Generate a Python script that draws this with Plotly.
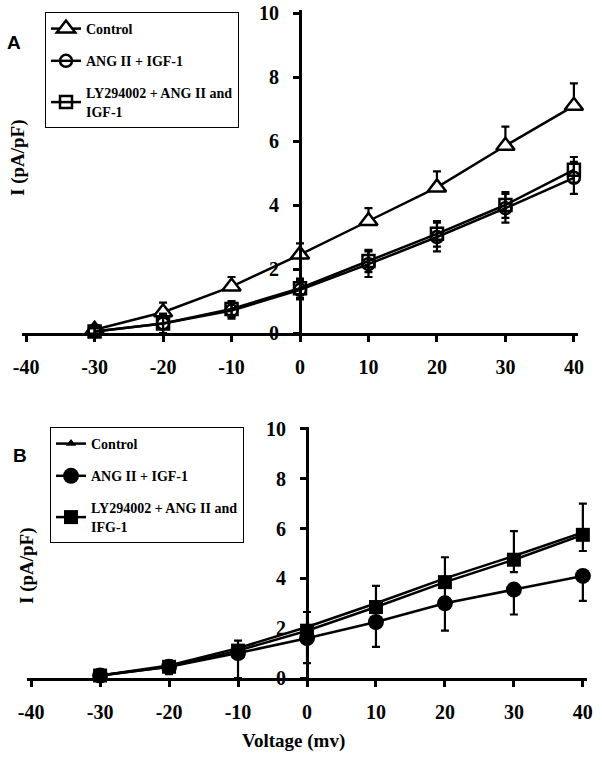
import plotly.graph_objects as go

# ---------------- data ----------------
voltage = [-30, -20, -10, 0, 10, 20, 30, 40]
x_ticks = [-40, -30, -20, -10, 0, 10, 20, 30, 40]
x_tick_labels = ["-40", "-30", "-20", "-10", "0", "10", "20", "30", "40"]
y_ticks = [0, 2, 4, 6, 8, 10]
y_tick_labels = ["0", "2", "4", "6", "8", "10"]

# Panel A
a_control = [0.1, 0.65, 1.45, 2.45, 3.5, 4.55, 5.85, 7.1]
a_control_err = [0.15, 0.3, 0.3, 0.35, 0.4, 0.5, 0.6, 0.7]
a_ang = [0.05, 0.3, 0.7, 1.35, 2.15, 3.0, 3.9, 4.85]
a_ang_err = [0.1, 0.3, 0.25, 0.3, 0.4, 0.45, 0.45, 0.5]
a_ly = [0.05, 0.3, 0.75, 1.4, 2.25, 3.1, 4.0, 5.1]
a_ly_err = [0.1, 0.3, 0.25, 0.3, 0.35, 0.4, 0.4, 0.4]

# Panel B
b_control = [0.1, 0.5, 1.2, 2.05, 3.0, 4.0, 4.9, 5.85]
b_control_err = [0.1, 0.2, 0.3, 0.6, 0.7, 0.85, 1.0, 1.15]
b_ang = [0.1, 0.45, 1.0, 1.6, 2.25, 3.0, 3.55, 4.1]
b_ang_err = [0.1, 0.3, 1.0, 1.0, 1.0, 1.1, 1.0, 1.0]
b_ly = [0.1, 0.45, 1.1, 1.9, 2.85, 3.85, 4.75, 5.75]
b_ly_err = [0.05, 0.1, 0.2, 0.4, 0.5, 0.6, 0.5, 0.65]

names_a = ["Control", "ANG II + IGF-1", "LY294002 + ANG II and<br>IGF-1"]
names_b = ["Control", "ANG II + IGF-1", "LY294002 + ANG II and<br>IFG-1"]

# ---------------- styling ----------------
W, H = 602, 758
SERIF = "Liberation Serif"
SANS = "Liberation Sans"
LW = 2.5
zeros = [0] * len(voltage)


def px(x):  # page pixel -> paper fraction
    return x / W


def py(y):
    return 1 - y / H


def err(vals, up=True):
    if up:
        return dict(type="data", symmetric=False, array=vals, arrayminus=zeros,
                    color="black", thickness=2.2, width=4)
    return dict(type="data", symmetric=False, array=zeros, arrayminus=vals,
                color="black", thickness=2.2, width=4)


def both(vals):
    return dict(type="data", array=vals, color="black", thickness=2.2, width=4)


fig = go.Figure()

# Panel A traces
fig.add_trace(go.Scatter(x=voltage, y=a_control, name=names_a[0], mode="lines+markers",
                         line=dict(color="black", width=LW),
                         marker=dict(symbol="triangle-up", size=16, color="white",
                                     line=dict(color="black", width=2.5)),
                         error_y=err(a_control_err, True), cliponaxis=False,
                         xaxis="x", yaxis="y", legend="legend", legendgroup="a1"))
fig.add_trace(go.Scatter(x=voltage, y=a_ang, name=names_a[1], mode="lines+markers",
                         line=dict(color="black", width=LW),
                         marker=dict(symbol="circle-open", size=12, color="black",
                                     line=dict(color="black", width=2.5)),
                         error_y=both(a_ang_err), cliponaxis=False,
                         xaxis="x", yaxis="y", legend="legend", legendgroup="a2"))
fig.add_trace(go.Scatter(x=voltage, y=a_ly, name=names_a[2], mode="lines+markers",
                         line=dict(color="black", width=LW),
                         marker=dict(symbol="square-open", size=12, color="black",
                                     line=dict(color="black", width=2.5)),
                         error_y=both(a_ly_err), cliponaxis=False,
                         xaxis="x", yaxis="y", legend="legend", legendgroup="a3"))

# Panel B traces
fig.add_trace(go.Scatter(x=voltage, y=b_control, name=names_b[0], mode="lines+markers",
                         line=dict(color="black", width=LW),
                         marker=dict(symbol="triangle-up", size=9, color="black"),
                         error_y=err(b_control_err, True), cliponaxis=False,
                         xaxis="x2", yaxis="y2", legend="legend2", legendgroup="b1"))
fig.add_trace(go.Scatter(x=voltage, y=b_ang, name=names_b[1], mode="lines+markers",
                         line=dict(color="black", width=LW),
                         marker=dict(symbol="circle", size=16, color="black"),
                         error_y=err(b_ang_err, False), cliponaxis=False,
                         xaxis="x2", yaxis="y2", legend="legend2", legendgroup="b2"))
fig.add_trace(go.Scatter(x=voltage, y=b_ly, name=names_b[2], mode="lines+markers",
                         line=dict(color="black", width=LW),
                         marker=dict(symbol="square", size=14, color="black"),
                         error_y=err(b_ly_err, False), cliponaxis=False,
                         xaxis="x2", yaxis="y2", legend="legend2", legendgroup="b3"))

tickfont = dict(family=SERIF, size=20, color="black", weight="bold")


def xaxis(dom, anchor):
    return dict(domain=dom, range=[-40.6, 40.6], anchor=anchor, tickvals=x_ticks,
                ticktext=x_tick_labels, automargin=False, ticklabeloverflow="allow",
                ticks="outside", ticklen=6, tickwidth=2.5, tickcolor="black",
                showline=True, linewidth=2.8, linecolor="black", showgrid=False,
                zeroline=False, tickfont=tickfont, ticklabelstandoff=8, fixedrange=True)


def yaxis(dom, pos):
    return dict(domain=dom, range=[0, 10.1], anchor="free", position=pos,
                tickvals=y_ticks, ticktext=y_tick_labels, ticks="outside", ticklen=6,
                tickwidth=2.5, tickcolor="black", showline=True, linewidth=2.8,
                linecolor="black", showgrid=False, zeroline=False, tickfont=tickfont,
                ticklabelstandoff=10, fixedrange=True, automargin=False,
                ticklabeloverflow="allow")


legfont = dict(family=SERIF, size=14, color="black", weight="bold")


def legend(x, y):
    return dict(x=x, y=y, xanchor="left", yanchor="top", bordercolor="black",
                borderwidth=1, bgcolor="white", font=legfont, traceorder="grouped",
                tracegroupgap=11, itemwidth=30)


title_font = dict(family=SERIF, size=19, color="black", weight="bold")


def ann(text, x, y, font, angle=0):
    return dict(text=text, x=px(x), y=py(y), xref="paper", yref="paper",
                xanchor="center", yanchor="middle", showarrow=False,
                textangle=angle, font=font)


panel_font = dict(family=SANS, size=19, color="black", weight="bold")

fig.update_layout(
    width=W, height=H, autosize=False,
    margin=dict(l=0, r=0, t=0, b=0, pad=0),
    plot_bgcolor="white", paper_bgcolor="white",
    xaxis=xaxis([px(22), px(578)], "y"),
    yaxis=yaxis([py(333), py(9.8)], px(300)),
    xaxis2=xaxis([px(27), px(587)], "y2"),
    yaxis2=yaxis([py(678), py(426.5)], px(307)),
    legend=legend(px(45), py(12)),
    legend2=legend(px(50), py(427)),
    annotations=[
        ann("A", 14, 42, panel_font),
        ann("B", 20, 455, panel_font),
        ann("I (pA/pF)", 18, 158, title_font, -90),
        ann("I (pA/pF)", 27, 566, title_font, -90),
        ann("Voltage (mv)", 293, 741, title_font),
    ],
)

fig.write_html("out.html", config={"displayModeBar": False},
               post_script="document.body.style.margin='0';document.body.style.overflow='hidden';")
